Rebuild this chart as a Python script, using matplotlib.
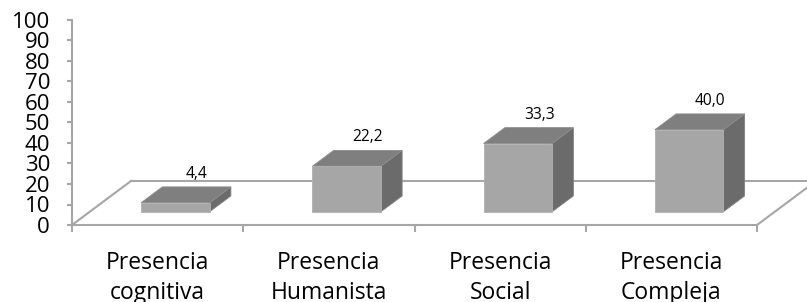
import matplotlib
matplotlib.use("Agg")
import matplotlib.pyplot as plt
from matplotlib.patches import Polygon
from matplotlib.lines import Line2D

categories = ["Presencia\ncognitiva", "Presencia\nHumanista", "Presencia\nSocial", "Presencia\nCompleja"]
values = [4.4, 22.2, 33.3, 40.0]
value_labels = ["4,4", "22,2", "33,3", "40,0"]
yticks = list(range(0, 101, 10))

plt.rcParams['font.family'] = ['Open Sans', 'DejaVu Sans']

W, H = 807, 302
fig = plt.figure(figsize=(W / 100, H / 100), dpi=100)
# axes: x -0.5..3.5 -> px 72..757 ; y 0..100 -> px 225..20
ax = fig.add_axes([72 / W, (H - 225) / H, 685 / W, 205 / H])
ax.set_xlim(-0.5, len(categories) - 0.5)
ax.set_ylim(0, 100)

line_c = "#a6a6a6"
# depth vector of full floor, in data units
DX, DY = 0.345, 21.5
f_front, f_back = 0.3, 0.66
bw = 0.4

def P(x, y, f):
    return (x + f * DX, y + f * DY)

# floor
x0, x1 = -0.5, len(categories) - 0.5
floor_kw = dict(color=line_c, lw=1.5, clip_on=False, zorder=1)
ax.add_line(Line2D([x0, x0 + DX], [0, DY], **floor_kw))
ax.add_line(Line2D([x0 + DX, x1 + DX + 0.3], [DY, DY], **floor_kw))
ax.add_line(Line2D([x1, x1 + DX], [0, DY], **floor_kw))

# bars
for i, v in enumerate(values):
    xl, xr = i - bw / 2, i + bw / 2
    front = [P(xl, 0, f_front), P(xr, 0, f_front), P(xr, v, f_front), P(xl, v, f_front)]
    top = [P(xl, v, f_front), P(xr, v, f_front), P(xr, v, f_back), P(xl, v, f_back)]
    side = [P(xr, 0, f_front), P(xr, 0, f_back), P(xr, v, f_back), P(xr, v, f_front)]
    ax.add_patch(Polygon(side, closed=True, facecolor="#6b6b6b", edgecolor="#808080", lw=0.6, zorder=3, clip_on=False))
    ax.add_patch(Polygon(top, closed=True, facecolor="#7f7f7f", edgecolor="#8c8c8c", lw=0.6, zorder=3, clip_on=False))
    ax.add_patch(Polygon(front, closed=True, facecolor="#a6a6a6", edgecolor="#b0b0b0", lw=0.6, zorder=4, clip_on=False))
    ax.text(i + 0.228, v + 20.6, value_labels[i], ha="center", va="center",
            fontsize=11.2, color="#000000", zorder=5)

# axes styling
for s in ["top", "right"]:
    ax.spines[s].set_visible(False)
for s in ["left", "bottom"]:
    ax.spines[s].set_color(line_c)
    ax.spines[s].set_linewidth(1.5)
ax.set_yticks(yticks)
ax.set_yticklabels([str(t) for t in yticks], fontsize=16)
ax.tick_params(axis="y", length=3.8, width=1.5, color=line_c, pad=12)
ax.set_xticks([i - 0.5 for i in range(len(categories) + 1)], minor=False)
ax.set_xticklabels([])
ax.tick_params(axis="x", length=5, width=1.5, color=line_c)
ax.set_xticks(range(len(categories)), minor=True)
ax.set_xticklabels(categories, minor=True, fontsize=16.5, linespacing=1.32)
ax.tick_params(axis="x", which="minor", length=0, pad=19)
ax.patch.set_visible(False)

fig.savefig("out.png", dpi=100)
